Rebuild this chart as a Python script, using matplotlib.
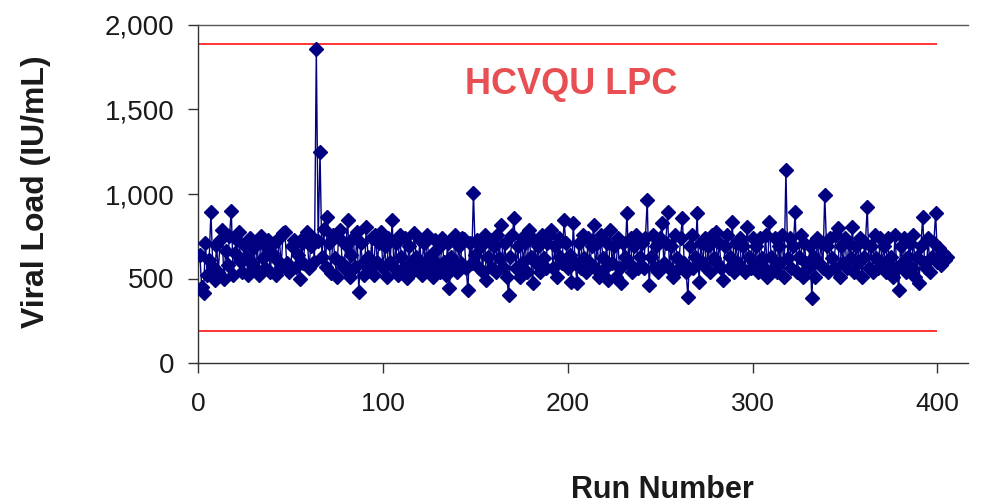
import matplotlib
matplotlib.use("Agg")
import matplotlib.pyplot as plt
from matplotlib.ticker import FuncFormatter

plt.rcParams['font.family'] = ['Liberation Sans', 'DejaVu Sans']

viral_load = [
    640, 450, 414, 710, 520, 610, 893, 570, 490, 700,
    540, 730, 787, 500, 660, 580, 750, 900, 520, 650,
    730, 775, 600, 540, 700, 630, 520, 740, 590, 680,
    560, 710, 520, 750, 620, 560, 690, 730, 540, 650,
    710, 520, 610, 740, 570, 768, 775, 590, 540, 550,
    690, 730, 570, 640, 500, 710, 590, 750, 775, 560,
    690, 740, 600, 1858, 720, 1250, 630, 790, 570, 865,
    710, 530, 760, 620, 510, 740, 787, 590, 560, 700,
    845, 510, 640, 740, 570, 775, 420, 710, 590, 520,
    805, 630, 560, 740, 520, 757, 600, 710, 775, 560,
    690, 510, 740, 600, 845, 560, 710, 520, 760, 630,
    560, 740, 502, 690, 590, 540, 770, 630, 560, 730,
    520, 710, 590, 760, 560, 640, 510, 730, 590, 680,
    540, 740, 600, 520, 710, 443, 630, 570, 760, 540,
    690, 590, 740, 733, 560, 432, 710, 590, 1005, 640,
    730, 560, 690, 540, 760, 490, 630, 730, 560, 690,
    540, 760, 620, 816, 570, 710, 510, 402, 630, 760,
    857, 560, 690, 510, 740, 600, 710, 540, 787, 630,
    473, 730, 590, 690, 540, 760, 620, 560, 710, 760,
    787, 560, 690, 510, 740, 630, 590, 845, 710, 560,
    640, 479, 828, 590, 473, 710, 560, 760, 620, 540,
    740, 590, 690, 816, 560, 710, 510, 760, 620, 560,
    710, 490, 787, 590, 690, 510, 740, 560, 473, 710,
    630, 887, 590, 740, 540, 690, 760, 560, 630, 710,
    560, 740, 965, 462, 630, 760, 560, 690, 540, 740,
    828, 590, 710, 893, 560, 690, 510, 760, 620, 560,
    740, 857, 590, 540, 390, 690, 760, 560, 630, 887,
    479, 710, 590, 740, 560, 690, 540, 760, 620, 775,
    590, 710, 560, 490, 690, 760, 560, 630, 834, 540,
    710, 590, 740, 560, 690, 540, 805, 630, 560, 740,
    590, 690, 540, 740, 620, 560, 760, 510, 834, 630,
    560, 740, 540, 690, 590, 760, 510, 1140, 620, 740,
    560, 690, 893, 540, 630, 760, 510, 710, 590, 560,
    690, 385, 630, 510, 740, 590, 710, 560, 995, 690,
    540, 740, 620, 560, 760, 800, 510, 690, 590, 740,
    560, 710, 620, 805, 540, 690, 590, 740, 510, 630,
    710, 923, 560, 690, 540, 760, 620, 560, 740, 590,
    690, 540, 740, 590, 630, 510, 760, 560, 430, 690,
    590, 740, 540, 630, 710, 560, 760, 510, 630, 473,
    690, 865, 590, 560, 740, 540, 630, 710, 888, 600,
    680, 580, 650, 610, 630,
]
run_number = list(range(1, len(viral_load) + 1))

upper_limit = 1890
lower_limit = 190
limit_span = [0, 400]
x_ticks = [0, 100, 200, 300, 400]
y_ticks = [0, 500, 1000, 1500, 2000]

fig = plt.figure(figsize=(9.84, 5.04), dpi=100)
ax = fig.add_axes([198/984, 1 - 363/504, (968-198)/984, (363-25)/504])

ax.plot(run_number, viral_load, color='#000080', linewidth=1.0,
        marker='D', markersize=7.5, markerfacecolor='#000080',
        markeredgecolor='#000080', zorder=3)
ax.hlines([upper_limit, lower_limit], limit_span[0], limit_span[1],
          colors='#ff3434', linewidth=1.4, zorder=2)

ax.set_xlim(0, 416.5)
ax.set_ylim(0, 2000)
ax.set_xticks(x_ticks)
ax.set_yticks(y_ticks)
ax.yaxis.set_major_formatter(FuncFormatter(lambda v, p: f"{int(v):,}"))

for s in ['left', 'bottom', 'top']:
    ax.spines[s].set_color('#333333')
    ax.spines[s].set_linewidth(1.0)
ax.spines['right'].set_visible(False)
ax.spines['top'].set_color('#555555')

ax.tick_params(axis='both', direction='out', length=7, width=1.0, colors='#333333')
ax.tick_params(axis='y', labelsize=20, pad=10)
ax.tick_params(axis='x', labelsize=19, pad=14)
for lbl in ax.get_xticklabels() + ax.get_yticklabels():
    lbl.set_color('#1a1a1a')

fig.text(36/984, 1 - 192/504, 'Viral Load (IU/mL)', rotation=90, fontsize=23,
         fontweight='bold', ha='center', va='center', color='#1a1a1a')

fig.text(662/984, 1 - 490/504, 'Run Number', fontsize=22, fontweight='bold',
         ha='center', va='center', color='#1a1a1a')

ax.text(202, 1650, 'HCVQU LPC', fontsize=26, fontweight='bold',
        color='#e84f52', ha='center', va='center')

fig.savefig('out.png', dpi=100)
